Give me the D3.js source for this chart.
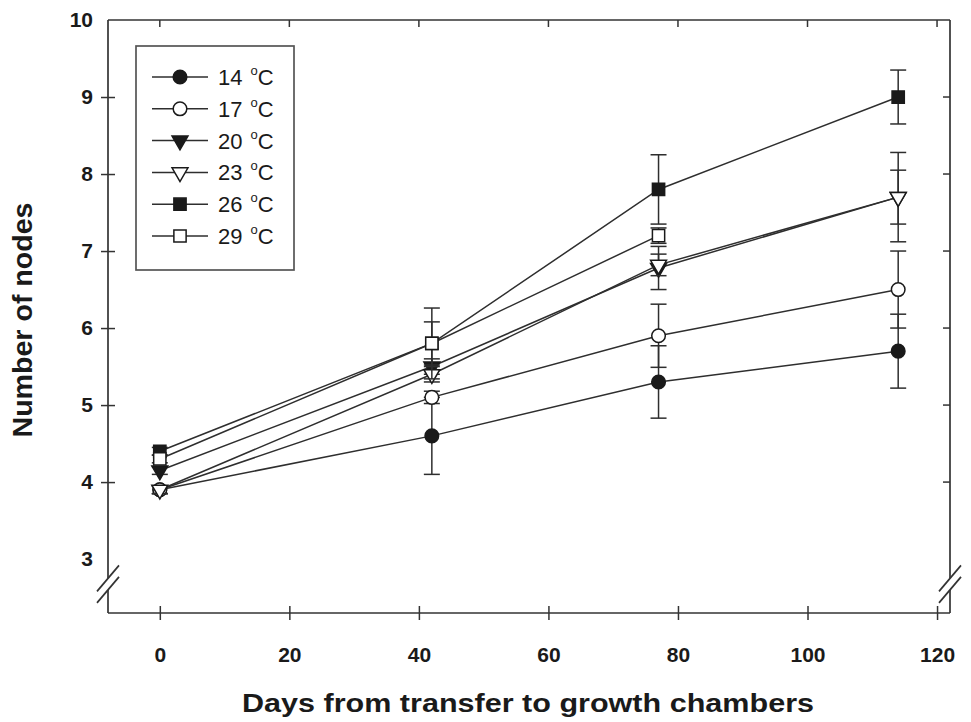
<!DOCTYPE html>
<html>
<head>
<meta charset="utf-8">
<script src="https://cdn.jsdelivr.net/npm/d3@7"></script>
<style>
    body { margin: 0; background: #fff; }
    svg { display: block; font-family: "Liberation Sans", Arial, sans-serif; }
</style>
</head>
<body>
<svg id="chart" width="971" height="722"></svg>
<script>
// days after transfer
const days = [0, 42, 77, 114];

const temps = ["14", "17", "20", "23", "26", "29"];

const nodes14 = [3.9, 4.6, 5.3, 5.7];
const nodes17 = [3.9, 5.1, 5.9, 6.5];
const nodes20 = [4.15, 5.5, 6.78, 7.7];
const nodes23 = [3.9, 5.4, 6.82, 7.7];
const nodes26 = [4.4, 5.8, 7.8, 9.0];
const nodes29 = [4.3, 5.8, 7.2];

const err14 = [0.05, 0.5, 0.47, 0.48];
const err17 = [0.05, 0.08, 0.41, 0.5];
const err20 = [0.05, 0.1, 0.28, 0.58];
const err23 = [0.05, 0.1, 0.14, 0.35];
const err26 = [0.05, 0.46, 0.45, 0.35];
const err29 = [0.05, 0.28, 0.1];

const xTicks = [0, 20, 40, 60, 80, 100, 120];
const yTicks = [3, 4, 5, 6, 7, 8, 9, 10];

const series = [
    { temp: temps[0], vals: nodes14, errs: err14, shape: "circle", filled: true },
    { temp: temps[1], vals: nodes17, errs: err17, shape: "circle", filled: false },
    { temp: temps[2], vals: nodes20, errs: err20, shape: "triangle", filled: true },
    { temp: temps[3], vals: nodes23, errs: err23, shape: "triangle", filled: false },
    { temp: temps[4], vals: nodes26, errs: err26, shape: "square", filled: true },
    { temp: temps[5], vals: nodes29, errs: err29, shape: "square", filled: false }
];

const ink = "#1a1a1a";
const stroke = "#2e2e2e";
const plotLeft = 108, plotRight = 950, plotTop = 20, plotBottom = 613;

const svg = d3.select("#chart");

const x = d3.scaleLinear().domain([-8, 122]).range([plotLeft, plotRight]);
const y = d3.scaleLinear().domain([2.3, 10]).range([plotBottom, plotTop]);

function symbolPath(shape) {
    if (shape === "circle") return d3.symbol(d3.symbolCircle, 145)();
    if (shape === "square") return d3.symbol(d3.symbolSquare, 150)();
    return d3.symbol(d3.symbolTriangle, 110)();
}

function drawMarker(g, s, cx, cy) {
    g.append("path")
        .attr("d", symbolPath(s.shape))
        .attr("transform", `translate(${cx},${cy})` + (s.shape === "triangle" ? " rotate(180)" : ""))
        .attr("fill", s.filled ? ink : "#fff")
        .attr("stroke", ink)
        .attr("stroke-width", 1.5);
}

// frame with axis breaks
const breakHi = y(2.75), breakLo = y(2.6);
const frame = svg.append("g").attr("stroke", "#333").attr("stroke-width", 1.7).attr("fill", "none");
frame.append("line").attr("x1", plotLeft).attr("x2", plotRight).attr("y1", plotTop).attr("y2", plotTop);
frame.append("line").attr("x1", plotLeft).attr("x2", plotRight).attr("y1", plotBottom).attr("y2", plotBottom);
[plotLeft, plotRight].forEach(px => {
    frame.append("line").attr("x1", px).attr("x2", px).attr("y1", plotTop).attr("y2", breakHi);
    frame.append("line").attr("x1", px).attr("x2", px).attr("y1", breakLo).attr("y2", plotBottom);
    [breakHi, breakLo].forEach(py => {
        frame.append("line")
            .attr("x1", px - 11).attr("y1", py + 13)
            .attr("x2", px + 11).attr("y2", py - 13);
    });
});

// bottom axis, ticks cross the line
const xAxis = svg.append("g")
    .attr("transform", `translate(0,${plotBottom})`)
    .call(d3.axisBottom(x).tickValues(xTicks).tickSize(0).tickPadding(34));
xAxis.select(".domain").remove();
xAxis.selectAll(".tick").append("line")
    .attr("y1", -7).attr("y2", 7).attr("stroke", "#333").attr("stroke-width", 1.5);
xAxis.selectAll(".tick text")
    .attr("font-size", 21).attr("font-weight", "bold").attr("fill", ink)
    .attr("font-family", "Liberation Sans, Arial, sans-serif");

// left axis
const yAxis = svg.append("g")
    .attr("transform", `translate(${plotLeft},0)`)
    .call(d3.axisLeft(y).tickValues(yTicks).tickSize(0).tickPadding(15));
yAxis.select(".domain").remove();
yAxis.selectAll(".tick").filter(d => d > 3 && d < 10).append("line")
    .attr("x1", -7).attr("x2", 7).attr("stroke", "#333").attr("stroke-width", 1.5);
yAxis.selectAll(".tick text")
    .attr("font-size", 21).attr("font-weight", "bold").attr("fill", ink)
    .attr("font-family", "Liberation Sans, Arial, sans-serif");

// inner ticks on top and right
svg.append("g").selectAll("line").data(xTicks).join("line")
    .attr("x1", d => x(d)).attr("x2", d => x(d))
    .attr("y1", plotTop).attr("y2", plotTop + 7)
    .attr("stroke", "#333").attr("stroke-width", 1.5);
svg.append("g").selectAll("line").data(yTicks.filter(d => d > 3 && d < 10)).join("line")
    .attr("x1", plotRight - 7).attr("x2", plotRight)
    .attr("y1", d => y(d)).attr("y2", d => y(d))
    .attr("stroke", "#333").attr("stroke-width", 1.5);

// axis titles
svg.append("text")
    .attr("x", 528).attr("y", 712)
    .attr("text-anchor", "middle").attr("font-size", 26).attr("font-weight", "bold").attr("fill", ink)
    .attr("textLength", 572).attr("lengthAdjust", "spacingAndGlyphs")
    .text("Days from transfer to growth chambers");
svg.append("text")
    .attr("transform", `translate(32,320) rotate(-90)`)
    .attr("text-anchor", "middle").attr("font-size", 27).attr("font-weight", "bold").attr("fill", ink)
    .attr("textLength", 235).attr("lengthAdjust", "spacingAndGlyphs")
    .text("Number of nodes");

// data series
const line = d3.line().x((d, i) => x(days[i])).y(d => y(d));
const plot = svg.append("g");
series.forEach(s => {
    const g = plot.append("g");
    g.append("path").attr("d", line(s.vals))
        .attr("fill", "none").attr("stroke", stroke).attr("stroke-width", 1.5);
    s.vals.forEach((v, i) => {
        const cx = x(days[i]);
        const e = s.errs[i];
        const eb = g.append("g").attr("stroke", stroke).attr("stroke-width", 1.5);
        eb.append("line").attr("x1", cx).attr("x2", cx).attr("y1", y(v - e)).attr("y2", y(v + e));
        [v - e, v + e].forEach(ev => {
            eb.append("line").attr("x1", cx - 8).attr("x2", cx + 8).attr("y1", y(ev)).attr("y2", y(ev));
        });
    });
    s.vals.forEach((v, i) => drawMarker(g, s, x(days[i]), y(v)));
});

// legend
const legend = svg.append("g");
legend.append("rect")
    .attr("x", 136).attr("y", 46).attr("width", 158).attr("height", 224)
    .attr("fill", "#fff").attr("stroke", "#555").attr("stroke-width", 1.7);
series.forEach((s, i) => {
    const ly = 77 + i * 31.8;
    legend.append("line").attr("x1", 152).attr("x2", 208).attr("y1", ly).attr("y2", ly)
        .attr("stroke", stroke).attr("stroke-width", 1.5);
    drawMarker(legend, s, 180, ly);
    const t = legend.append("text").attr("x", 218).attr("y", ly + 8)
        .attr("font-size", 22).attr("fill", ink);
    t.append("tspan").text(s.temp);
    t.append("tspan").attr("font-size", 13).attr("dx", 8).attr("dy", -10).text("o");
    t.append("tspan").attr("dy", 10).text("C");
});
</script>
</body>
</html>
